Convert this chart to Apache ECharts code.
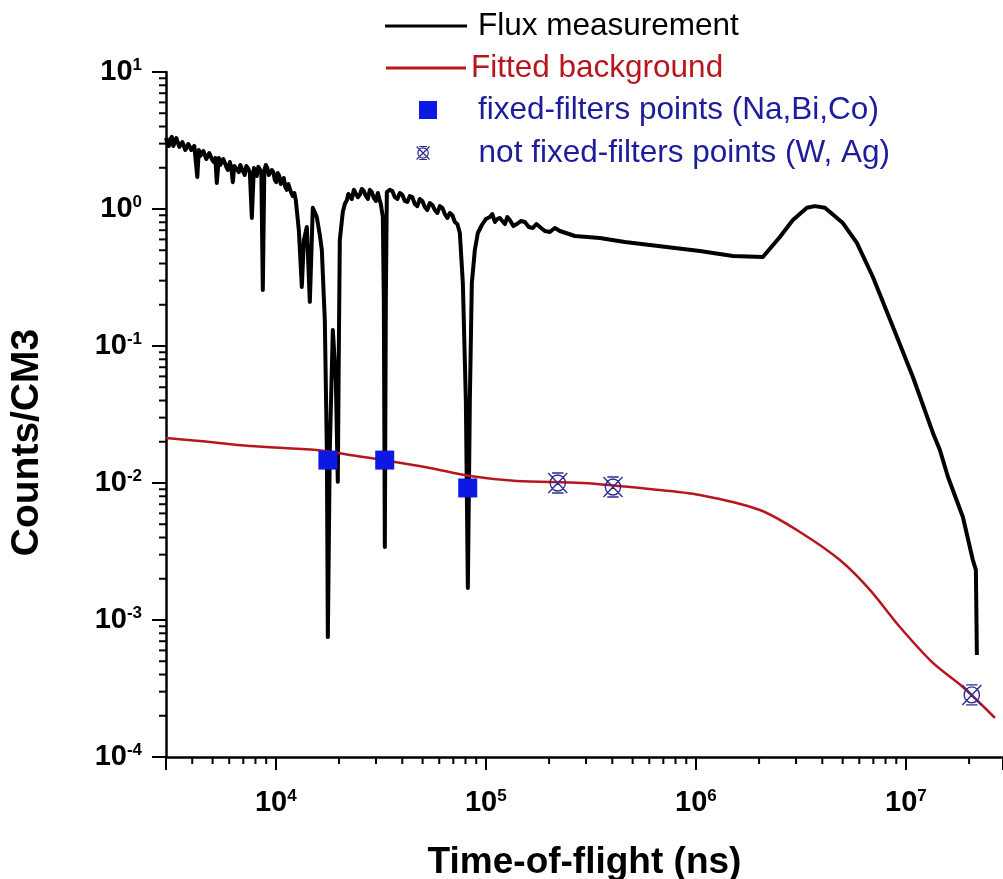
<!DOCTYPE html>
<html>
<head>
<meta charset="utf-8">
<script src="https://cdn.jsdelivr.net/npm/echarts@6/dist/echarts.min.js"></script>
<style>
  html, body { margin: 0; padding: 0; background: #fff; }
  #chart { width: 1003px; height: 879px; }
</style>
</head>
<body>
<div id="chart"></div>
<script>
// Measured neutron flux (time-of-flight in ns, counts per cm3)
const fluxTime = [
  3000, 3043, 3095, 3145, 3197, 3250, 3304, 3359, 3415, 3472, 3528, 3588, 3647, 3707, 3769, 3831,
  3895, 3960, 4025, 4092, 4159, 4229, 4299, 4370, 4443, 4517, 4591, 4667, 4745, 4823, 4903, 4984,
  5067, 5151, 5236, 5354, 5441, 5533, 5623, 5717, 5811, 5908, 6039, 6139, 6240, 6344, 6449, 6556,
  6664, 6776, 6887, 7002, 7117, 7236, 7355, 7520, 7688, 7860, 7987, 8120, 8254, 8391, 8531, 8672,
  8816, 8964, 9110, 9261, 9415, 9572, 9730, 9890, 10055, 10220, 10390, 10560, 10740, 10920, 11100,
  11280, 11470, 11660, 11850, 12050, 12250, 12450, 12870,
  13300, 13600, 14050, 14520, 15000, 15670, 16200, 16560, 17110, 17500, 17690, 18070, 18680, 19310,
  19730, 19950, 20170, 20840, 21310, 21790, 22140, 22510, 23010, 23520, 24040, 24580, 25120, 25680,
  26240, 26830, 27420, 28030, 28650, 29290, 29940, 30600, 31110, 31620,
  32320, 32680, 33040, 33410, 33780, 34900, 35870, 36880, 37910, 38960, 40040, 41150, 42300, 43460,
  44670, 45910, 47190, 48500, 49850, 51230, 52650, 54120, 55630, 57170, 58750, 60390, 62070, 63790,
  65560, 67420, 69260, 71180, 73160, 75210, 77710, 80320, 82100, 83920, 85760, 88640, 91600, 95720,
  100000, 104500, 107400, 110400, 113400, 116600, 119800, 123200, 126600, 130100, 135200, 140500,
  146800, 153400, 160200, 167400, 174000, 180800, 191000, 201700, 213100, 225100,
  265400, 349000, 459100, 604000, 794300, 1045000, 1501000, 2084000, 2512000, 2897000, 3379000,
  3687000, 4115000, 5012000, 5843000, 6965000, 8672000, 10800000, 13450000, 14520000, 15850000,
  18680000, 20840000, 21540000, 21780000
];
const fluxCounts = [
  3.298, 3.03, 2.884, 3.243, 3.355, 2.884, 2.93, 3.298, 3.19, 2.836, 2.79, 3.08, 3.136, 2.696, 2.742, 2.982,
  3.03, 2.696, 2.61, 2.884, 2.836, 1.71, 2.696, 2.437, 2.357, 2.651, 2.696, 2.317, 2.28, 2.563, 2.52, 2.28,
  2.203, 2.357, 1.548, 2.357, 2.096, 2.061, 2.317, 2.357, 2.03, 1.926, 2.203, 1.992, 1.57, 2.061, 2.131, 1.926,
  1.86, 2.096, 2.167, 1.86, 1.771, 2.061, 1.992, 1.86, 0.86, 1.992, 1.894, 1.741, 2.03, 2.061, 1.86, 0.256,
  1.926, 2.096, 1.992, 1.771, 1.741, 1.926, 1.86, 1.63, 1.57, 1.83, 1.741, 1.522, 1.601, 1.684, 1.447,
  1.38, 1.522, 1.472, 1.309, 1.244, 1.309, 1.16, 0.703,
  0.27, 0.594, 0.739, 0.21, 1.02, 0.874, 0.646, 0.502, 0.155, 0.0174, 0.00075, 0.0174, 0.131, 0.0565,
  0.0102, 0.0935, 0.594, 0.951, 1.088, 1.16, 1.287, 1.27, 1.183, 1.38, 1.423, 1.22, 1.27, 1.40,
  1.353, 1.244, 1.183, 1.38, 1.33, 1.203, 1.144, 1.309, 1.183, 1.088,
  0.874, 0.217, 0.00341, 0.217, 1.33, 1.38, 1.353, 1.22, 1.183, 1.309, 1.27, 1.144, 1.125, 1.244,
  1.22, 1.088, 1.05, 1.183, 1.144, 1.034, 0.983, 1.106, 1.07, 0.983, 0.935, 1.05, 1.02, 0.919,
  0.86, 0.935, 0.904, 0.804, 0.777, 0.668, 0.288, 0.0403, 0.00171, 0.0403, 0.288, 0.502, 0.668, 0.764,
  0.845, 0.874, 0.919, 0.804, 0.845, 0.86, 0.817, 0.777, 0.874, 0.831, 0.751, 0.777,
  0.817, 0.804, 0.739, 0.727, 0.777, 0.739, 0.691, 0.679, 0.727, 0.691,
  0.635, 0.614, 0.574, 0.546, 0.519, 0.494, 0.454, 0.446, 0.625, 0.831, 1.02,
  1.05, 1.02, 0.79, 0.565, 0.319, 0.138, 0.0594, 0.0232, 0.0174, 0.0111,
  0.00565, 0.00274, 0.00232, 0.000555
];

// Fitted background curve
const fitTime = [3000, 4346, 7520, 15670, 22510, 32320, 54120, 83920, 140500, 289700, 604000,
  1045000, 2017000, 3128000, 4850000, 6740000, 9364000, 13450000, 18680000, 26530000];
const fitCounts = [0.0213, 0.02026, 0.01863, 0.01741, 0.01601, 0.01472, 0.01287, 0.01125, 0.01034,
  0.0100, 0.00904, 0.00818, 0.00635, 0.00439, 0.00274, 0.00166, 0.000889, 0.000486, 0.000324, 0.000193];

// Black-resonance filter points
const fixedTime = [17700, 33000, 82000];          // Na, Bi, Co
const fixedCounts = [0.0147, 0.0147, 0.0092];
const freeTime = [220000, 403000, 20600000];      // W, Ag
const freeCounts = [0.0100, 0.00935, 0.000284];

// Axis ranges and decades carrying a "10^n" label
const X_MIN = 3000, X_MAX = 29000000;
const Y_MIN = 1e-4, Y_MAX = 10;
const xDecades = [4, 5, 6, 7];
const yDecades = [-4, -3, -2, -1, 0, 1];

const FONT = '"Liberation Sans", Arial, Helvetica, sans-serif';
const BLUE_SQ = '#0c18e4';
const NAVY = '#2b2b8e';
const RED = '#b8161e';
const LEGEND_BLUE = '#1c1c9c';
const CROSS_PATH = 'path://M10,2 A8,8 0 1 1 9.99,2 Z M0,0 L20,20 M20,0 L0,20 M4,0 L16,0 M4,20 L16,20';

function zip(a, b) { return a.map((v, i) => [v, b[i]]); }

function powerLabel(decades) {
  return function (v) {
    const e = Math.round(Math.log10(v));
    if (Math.abs(Math.log10(v) - e) > 1e-6 || decades.indexOf(e) < 0) return '';
    return '{b|10}{s|' + e + '}';
  };
}
const labelRich = {
  b: { fontFamily: FONT, fontWeight: 'bold', fontSize: 29, lineHeight: 30, color: '#000', verticalAlign: 'middle' },
  s: { fontFamily: FONT, fontWeight: 'bold', fontSize: 17, lineHeight: 17, color: '#000', verticalAlign: 'top' }
};

// Minor tick positions: 2..9 times each decade inside the axis range
function minorValues(lo, hi) {
  const out = [];
  for (let e = Math.floor(Math.log10(lo)); e <= Math.ceil(Math.log10(hi)); e++) {
    for (let k = 2; k <= 9; k++) {
      const v = k * Math.pow(10, e);
      if (v > lo * 1.0001 && v < hi * 0.9999) out.push(v);
    }
  }
  return out;
}
function minorTickSeries(values, dir) {
  return {
    type: 'custom', silent: true, clip: false, z: 6,
    data: values.map(v => dir === 'x' ? [v, Y_MIN] : [X_MIN, v]),
    renderItem: function (params, api) {
      const p = api.coord([api.value(0), api.value(1)]);
      const shape = dir === 'x'
        ? { x1: p[0], y1: p[1], x2: p[0], y2: p[1] + 7 }
        : { x1: p[0], y1: p[1], x2: p[0] - 7, y2: p[1] };
      return { type: 'line', shape: shape, style: { stroke: '#000', lineWidth: 2 } };
    }
  };
}

const legendText = { fontFamily: FONT, fontSize: 31.5, lineHeight: 30 };

const chart = echarts.init(document.getElementById('chart'), null, { renderer: 'canvas' });
chart.setOption({
  animation: false,
  backgroundColor: '#fff',
  grid: { left: 166, right: 0, top: 72, bottom: 122, containLabel: false, outerBoundsMode: 'none' },
  legend: [
    {
      data: [{ name: 'Flux measurement', textStyle: { color: '#000' } }],
      left: 385, top: 10, padding: 0, icon: 'rect', itemWidth: 82, itemHeight: 3, selectedMode: false,
      textStyle: Object.assign({}, legendText, { padding: [0, 0, 0, 6] })
    },
    {
      data: [{ name: 'Fitted background', textStyle: { color: RED } }],
      left: 386, top: 52, padding: 0, icon: 'rect', itemWidth: 80, itemHeight: 3, selectedMode: false,
      textStyle: Object.assign({}, legendText)
    },
    {
      data: [{ name: 'fixed-filters points (Na,Bi,Co)', textStyle: { color: LEGEND_BLUE } }],
      left: 419, top: 94, padding: 0, icon: 'rect', itemWidth: 18, itemHeight: 18, selectedMode: false,
      textStyle: Object.assign({}, legendText, { padding: [0, 0, 0, 36] })
    },
    {
      data: [{ name: 'not fixed-filters points (W, Ag)', textStyle: { color: LEGEND_BLUE } }],
      left: 416, top: 137, padding: 0, icon: CROSS_PATH, itemWidth: 13, itemHeight: 15, selectedMode: false,
      itemStyle: { color: 'rgba(0,0,0,0)', borderColor: NAVY, borderWidth: 1.2 },
      textStyle: Object.assign({}, legendText, { padding: [0, 0, 0, 44] })
    }
  ],
  xAxis: {
    type: 'log', logBase: 10, min: X_MIN, max: X_MAX,
    name: 'Time-of-flight (ns)', nameLocation: 'middle', nameGap: 87,
    nameTextStyle: { fontFamily: FONT, fontWeight: 'bold', fontSize: 37, color: '#000' },
    axisLine: { lineStyle: { color: '#000', width: 2.5 } },
    axisTick: { length: 13, lineStyle: { color: '#000', width: 2 } },
    splitLine: { show: false },
    axisLabel: { formatter: powerLabel(xDecades), margin: 31, rich: labelRich, showMinLabel: true, showMaxLabel: true }
  },
  yAxis: {
    type: 'log', logBase: 10, min: Y_MIN, max: Y_MAX,
    name: 'Counts/CM3', nameLocation: 'middle', nameGap: 119,
    nameTextStyle: { fontFamily: FONT, fontWeight: 'bold', fontSize: 39, color: '#000', padding: [0, 56, 0, 0] },
    axisLine: { lineStyle: { color: '#000', width: 2.5 } },
    axisTick: { length: 14, lineStyle: { color: '#000', width: 2 } },
    splitLine: { show: false },
    axisLabel: { formatter: powerLabel(yDecades), margin: 24, rich: labelRich }
  },
  series: [
    {
      name: 'Flux measurement', type: 'line', data: zip(fluxTime, fluxCounts),
      symbol: 'none', color: '#000', z: 2,
      lineStyle: { color: '#000', width: 4, join: 'round' }
    },
    {
      name: 'Fitted background', type: 'line', data: zip(fitTime, fitCounts),
      symbol: 'none', smooth: 0.3, color: RED, z: 3,
      lineStyle: { color: RED, width: 2.5 }
    },
    {
      name: 'fixed-filters points (Na,Bi,Co)', type: 'scatter', data: zip(fixedTime, fixedCounts),
      symbol: 'rect', symbolSize: 19, z: 4,
      itemStyle: { color: BLUE_SQ, opacity: 1 }
    },
    {
      name: 'not fixed-filters points (W, Ag)', type: 'scatter', data: zip(freeTime, freeCounts),
      symbol: CROSS_PATH, symbolSize: [19, 20], z: 5,
      itemStyle: { color: 'rgba(0,0,0,0)', borderColor: NAVY, borderWidth: 1.4, opacity: 1 }
    },
    minorTickSeries(minorValues(X_MIN, X_MAX), 'x'),
    minorTickSeries(minorValues(Y_MIN, Y_MAX), 'y')
  ]
});
</script>
</body>
</html>
